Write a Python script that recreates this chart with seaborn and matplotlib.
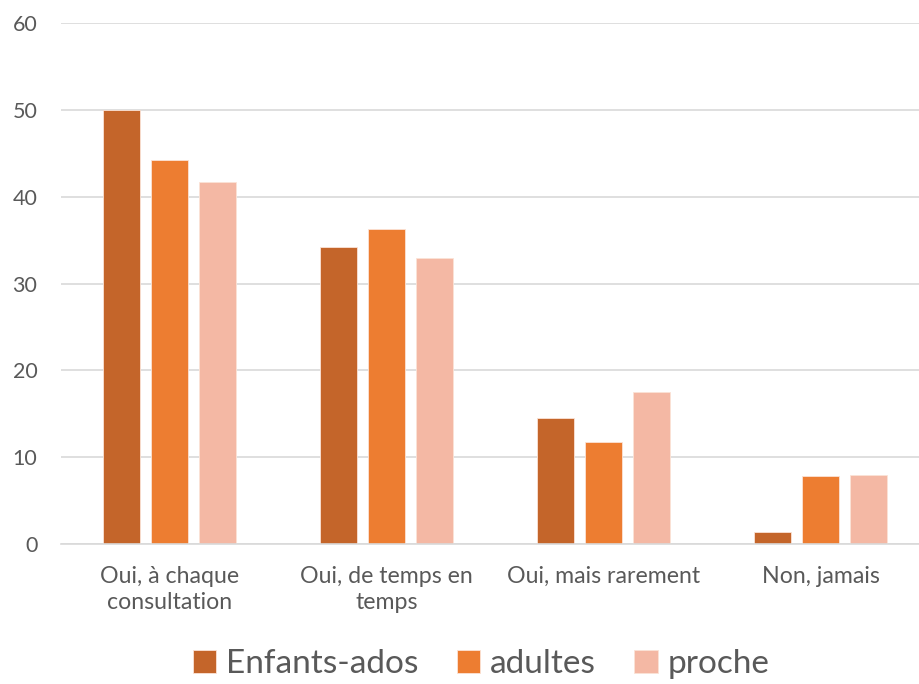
import matplotlib

matplotlib.use("Agg")
import matplotlib.pyplot as plt
import pandas as pd
import seaborn as sns

categories = ["Oui, à chaque\nconsultation", "Oui, de temps en\ntemps", "Oui, mais rarement", "Non, jamais"]
series = ["Enfants-ados", "adultes", "proche"]
enfants = [50.0, 34.2, 14.5, 1.4]
adultes = [44.2, 36.3, 11.7, 7.8]
proche = [41.7, 32.9, 17.5, 7.9]
colors = ["#C4652A", "#ED7D31", "#F4B8A4"]

df = pd.DataFrame({
    "cat": categories * 3,
    "serie": [s for s in series for _ in categories],
    "val": enfants + adultes + proche,
})

sns.set_theme(style="white")
plt.rcParams["font.family"] = ["Lato", "DejaVu Sans"]

fig = plt.figure(figsize=(9.2, 6.84), dpi=100)
ax = fig.add_axes([61 / 920, 1 - 544 / 684, 868 / 920, 521 / 684])

sns.barplot(data=df, x="cat", y="val", hue="serie", palette=colors, saturation=1,
            width=0.664, gap=0.23, edgecolor="#FBE3D6", linewidth=0.6, ax=ax)

ax.set_ylim(0, 60)
ax.set_yticks(range(0, 61, 10))
ax.set_xlim(-0.5, 3.5)
ax.yaxis.grid(True, color="#D9D9D9", linewidth=1.2)
ax.set_axisbelow(True)
for s in ["top", "right", "left"]:
    ax.spines[s].set_visible(False)
ax.spines["bottom"].set_color("#D9D9D9")
ax.spines["bottom"].set_linewidth(1.2)
ax.set_xlabel("")
ax.set_ylabel("")
ax.tick_params(axis="both", length=0, labelcolor="#595959")
ax.tick_params(axis="y", pad=17, labelsize=15.5)
ax.tick_params(axis="x", pad=16, labelsize=16.7)
for lbl in ax.get_yticklabels():
    lbl.set_horizontalalignment("right")
for lbl in ax.get_xticklabels():
    lbl.set_linespacing(1.3)

ax.legend(loc="center", bbox_to_anchor=(481 / 920, 1 - 664 / 684), bbox_transform=fig.transFigure,
          ncol=3, frameon=False, fontsize=24, handlelength=0.7, handleheight=0.7,
          handletextpad=0.3, columnspacing=1.15, labelcolor="#595959")

fig.savefig("out.png", dpi=100)
